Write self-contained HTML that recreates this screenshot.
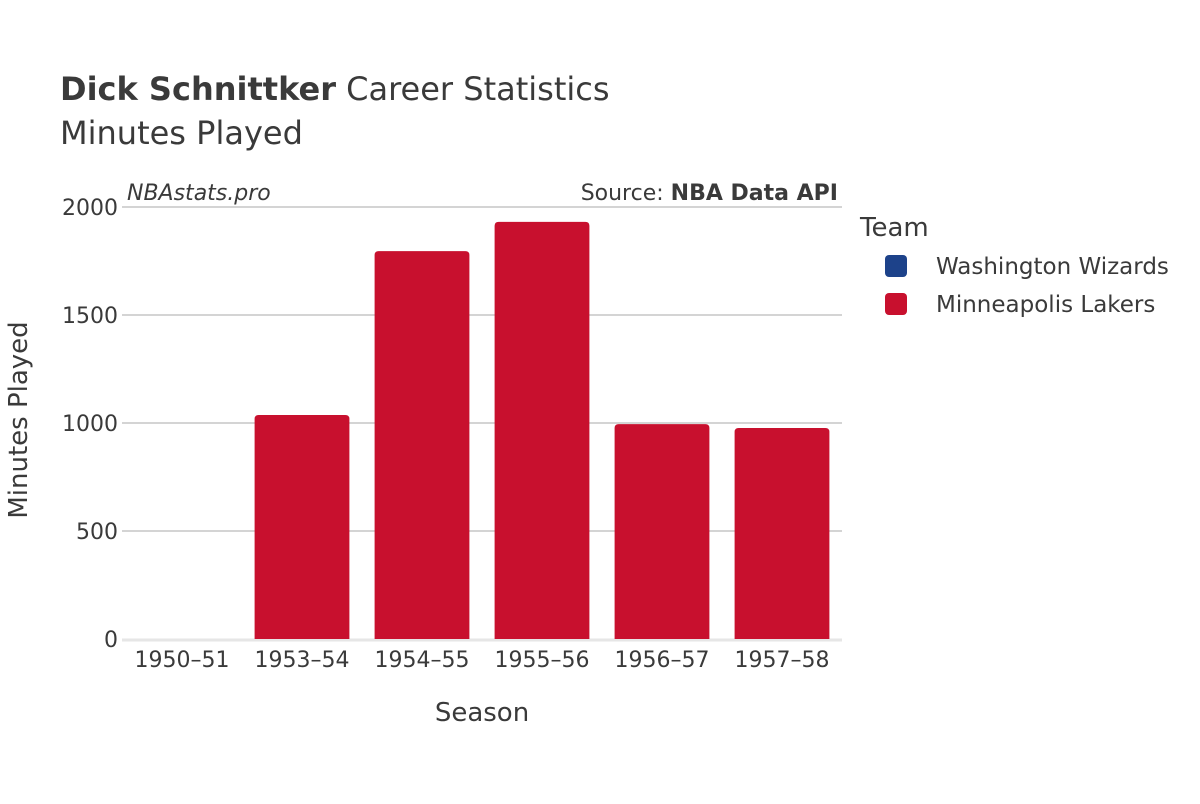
<!DOCTYPE html>
<html><head><meta charset="utf-8"><style>
body{margin:0;background:#fff;font-family:"DejaVu Sans","Liberation Sans",sans-serif;}
svg text{font-family:"DejaVu Sans","Liberation Sans",sans-serif;fill:#3a3a3a;}
</style></head><body>
<svg width="1200" height="800" id="c">
<text x="60" y="100" font-size="32"><tspan font-weight="bold">Dick Schnittker</tspan> Career Statistics</text>
<text x="60" y="144" font-size="32">Minutes Played</text>
<text x="127" y="200" font-size="22" font-style="italic">NBAstats.pro</text>
<text x="838" y="200" font-size="22" text-anchor="end">Source: <tspan font-weight="bold">NBA Data API</tspan></text>
<g id="grid"></g><g id="bars"></g><g id="xt"></g>
<text x="482" y="721" font-size="26" text-anchor="middle">Season</text>
<text transform="translate(27,420) rotate(-90)" font-size="26" text-anchor="middle">Minutes Played</text>
<text x="860" y="236" font-size="26">Team</text>
<g><rect x="885" y="255" width="22" height="22" rx="4" fill="#1d428a"/><text x="936" y="274" font-size="23">Washington Wizards</text></g>
<g><rect x="885" y="293" width="22" height="22" rx="4" fill="#c8102e"/><text x="936" y="312" font-size="23">Minneapolis Lakers</text></g>
</svg>
<script>
const seasons=["1950–51","1953–54","1954–55","1955–56","1956–57","1957–58"];
const washington=[0,0,0,0,0,0];
const lakers=[0,1037,1796,1931,995,977];
const yTicks=[0,500,1000,1500,2000];
const NS="http://www.w3.org/2000/svg";
const x0=122,x1=842,yb=639,yt=207,ymax=2000;
const bw=(x1-x0)/seasons.length;
const ys=v=>yb-(v/ymax)*(yb-yt);
const xc=i=>x0+bw*(i+0.5);
function mk(t,a,p){const e=document.createElementNS(NS,t);for(const k in a)e.setAttribute(k,a[k]);p.appendChild(e);return e;}
const g=document.getElementById('grid');
yTicks.forEach(v=>{
 if(v>0){const l=mk('line',{x1:x0,x2:x1,y1:ys(v),y2:ys(v),stroke:'#aaa','stroke-width':1},g);
 
 }
 const t=mk('text',{x:x0-4,y:ys(v)+8,'font-size':22,'text-anchor':'end'},g);t.textContent=v;
 
 
});
const base=mk('line',{x1:x0,x2:x1,y1:yb+1,y2:yb+1,stroke:'#e6e6e6','stroke-width':3},g);


const b=document.getElementById('bars'),xt=document.getElementById('xt');
seasons.forEach((s,i)=>{
 const w=bw*0.79;
 [[washington[i],'#1d428a',0],[lakers[i],'#c8102e',washington[i]]].forEach(([v,c,off])=>{
  if(v<=0)return;
  const y=ys(v+off),h=ys(off)-y;
  const r=mk('path',{d:`M${xc(i)-w/2},${y+h} V${y+4} Q${xc(i)-w/2},${y} ${xc(i)-w/2+4},${y} H${xc(i)+w/2-4} Q${xc(i)+w/2},${y} ${xc(i)+w/2},${y+4} V${y+h} Z`,fill:c},b);
  
  
 });
 const t=mk('text',{x:xc(i),y:667,'font-size':22,'text-anchor':'middle'},xt);t.textContent=s;
 
 
});
</script>
</body></html>
